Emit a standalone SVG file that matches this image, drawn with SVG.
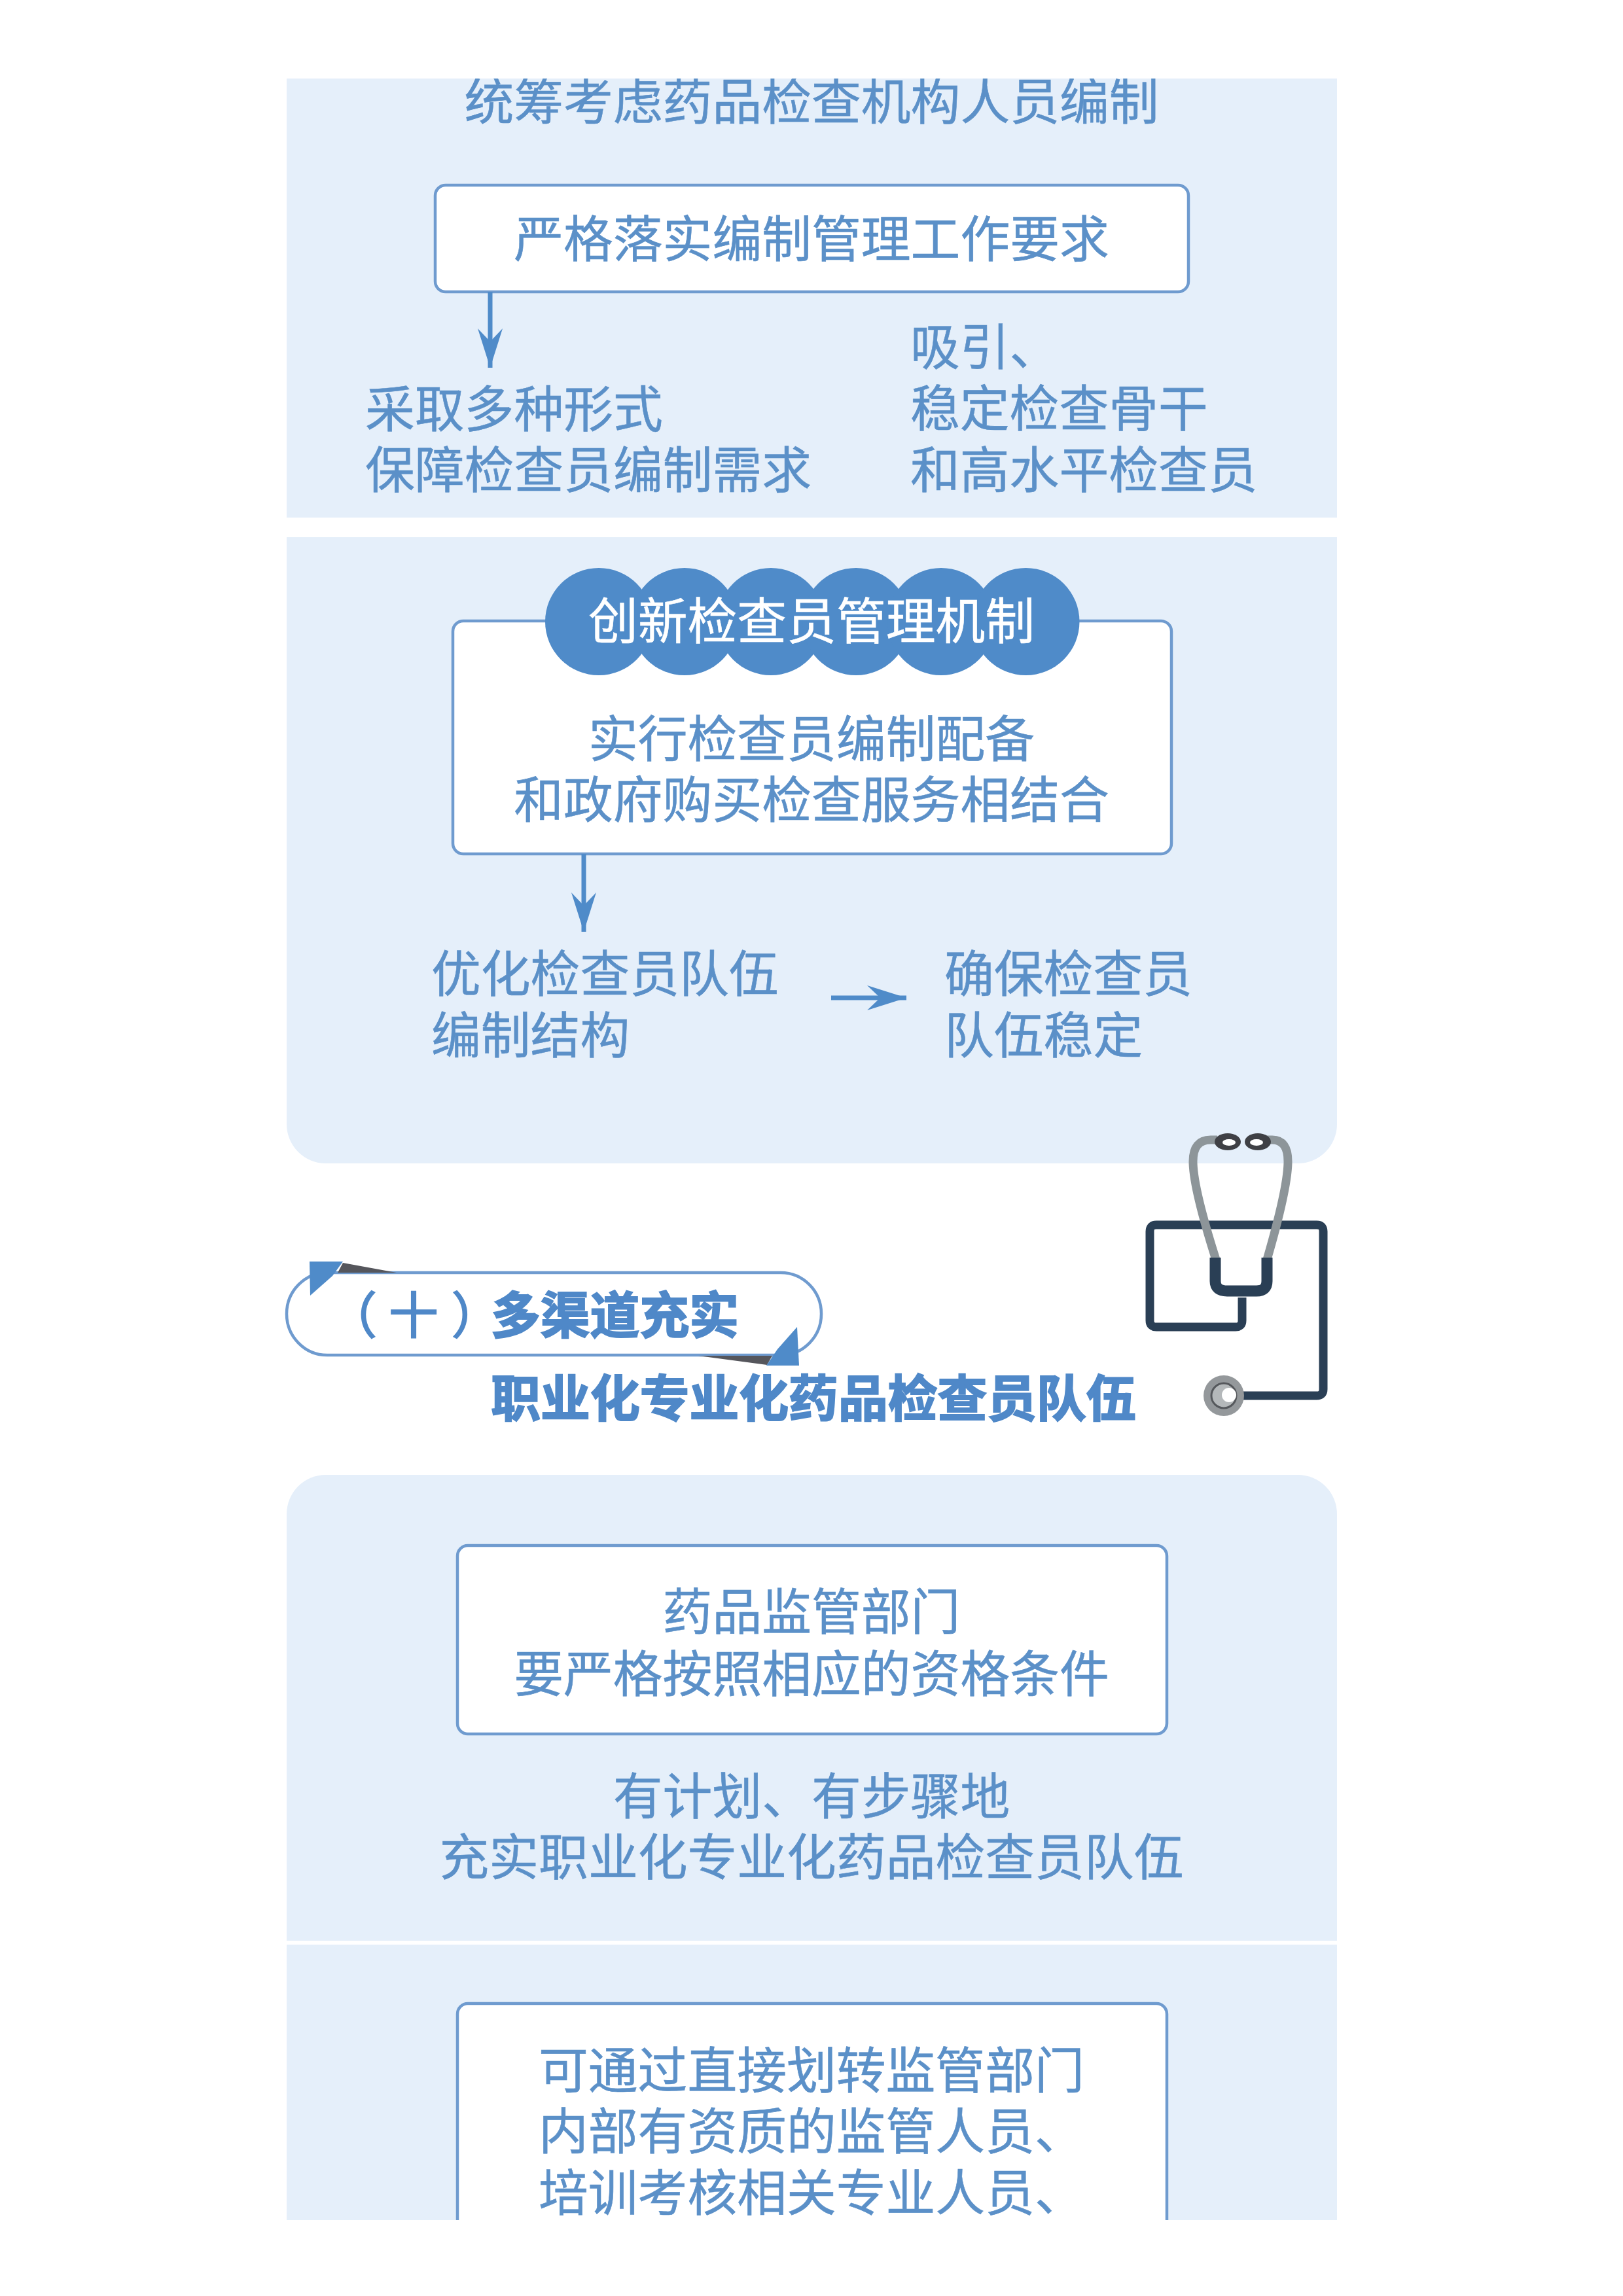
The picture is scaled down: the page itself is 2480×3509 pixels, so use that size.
<svg xmlns="http://www.w3.org/2000/svg" width="2480" height="3509" viewBox="0 0 2480 3509">
<style>
text{font-family:"Noto Sans CJK SC","Noto Sans",sans-serif;font-size:75.8px;fill:#5b90c8;stroke:#5b90c8;stroke-width:.6px}
.c{text-anchor:middle}
.w{fill:#fff;stroke:#fff}
.h{font-weight:700;fill:#4f88c8;stroke:#4f88c8;stroke-width:2.2px}
.t{font-weight:400;fill:#4f88c8;stroke:#4f88c8;stroke-width:2px;text-anchor:middle}
.panel{fill:#e5effa}
.box{fill:#fff;stroke:#6f9bcf;stroke-width:4.5}
.conn{fill:none;stroke:#4f8bc9;stroke-width:7}
.dark{fill:none;stroke:#2a3f55;stroke-width:13;stroke-linejoin:round}
.grey{fill:none;stroke:#8d9599;stroke-width:13}
</style>
<defs>
<marker id="head" markerUnits="userSpaceOnUse" markerWidth="64" markerHeight="44" refX="60" refY="22" orient="auto"><path d="M60 22L0 3L20 22L0 41Z" fill="#4f8bc9"/></marker>
<clipPath id="page"><rect x="438" y="120" width="1605" height="3273"/></clipPath>
</defs>
<rect width="2480" height="3509" fill="#fff"/>
<g id="panels">
<rect class="panel" x="438" y="120" width="1605" height="671"/>
<path class="panel" d="M438 821H2043V1718A60 60 0 0 1 1983 1778H498A60 60 0 0 1 438 1718Z"/>
<path class="panel" d="M498 2254H1983A60 60 0 0 1 2043 2314V2966H438V2314A60 60 0 0 1 498 2254Z"/>
<rect class="panel" x="438" y="2972" width="1605" height="421"/>
</g>
<g id="node-top" clip-path="url(#page)"><text class="c" x="1240" y="183">统筹考虑药品检查机构人员编制</text></g>
<g id="node-requirement">
<rect class="box" x="665" y="283" width="1151" height="163" rx="16"/>
<text class="c" x="1240" y="393">严格落实编制管理工作要求</text>
</g>
<g id="node-forms"><text x="558" y="653">采取多种形式</text><text x="558" y="746">保障检查员编制需求</text></g>
<g id="node-attract"><text x="1391" y="558">吸引、</text><text x="1391" y="652">稳定检查骨干</text><text x="1391" y="746">和高水平检查员</text></g>
<g id="node-mechanism">
<rect class="box" x="692" y="949" width="1098" height="356" rx="16"/>
<g fill="#4f8bc9"><circle cx="915" cy="950" r="82"/><circle cx="1046" cy="950" r="82"/><circle cx="1178" cy="950" r="82"/><circle cx="1308" cy="950" r="82"/><circle cx="1438" cy="950" r="82"/><circle cx="1567.5" cy="950" r="82"/></g>
<text class="c w" x="1240" y="977">创新检查员管理机制</text>
<text class="c" x="1240" y="1157">实行检查员编制配备</text>
<text class="c" x="1240" y="1250">和政府购买检查服务相结合</text>
</g>
<g id="node-optimize"><text x="659" y="1516">优化检查员队伍</text><text x="659" y="1610">编制结构</text></g>
<g id="node-stable"><text x="1443" y="1516">确保检查员</text><text x="1443" y="1610">队伍稳定</text></g>
<g id="connectors">
<path class="conn" d="M749 446V562" marker-end="url(#head)"/>
<path class="conn" d="M892 1305V1424" marker-end="url(#head)"/>
<path class="conn" d="M1270 1525H1385" stroke-width="9" marker-end="url(#head)"/>
</g>
<g id="node-heading">
<rect x="438" y="1945" width="817" height="126" rx="62" ry="63" fill="#fff" stroke="#6f9bcf" stroke-width="4.5"/>
<path d="M524 1930L606 1945H516Z" fill="#55565c"/>
<path d="M473 1928H524L508 1950L474 1980Z" fill="#4f8bc9"/>
<path d="M1067 2072H1180L1172 2086Z" fill="#55565c"/>
<path d="M1218 2028L1221 2087H1171L1188 2062Z" fill="#4f8bc9"/>
<text class="t" x="538" y="2038">（</text><text class="t" x="632" y="2038">十</text><text class="t" x="728" y="2038">）</text>
<text class="h" x="750" y="2038">多渠道充实</text>
<text class="h c" x="1243" y="2165">职业化专业化药品检查员队伍</text>
</g>
<g id="stethoscope">
<path class="dark" d="M1898 1983V2018Q1898 2028 1888 2028H1767Q1757 2028 1757 2018V1882Q1757 1872 1767 1872H2012Q2022 1872 2022 1882V2123Q2022 2133 2012 2133H1895"/>
<path class="grey" d="M1860 1742H1850Q1823 1742 1823 1775Q1823 1815 1858 1925"/>
<path class="grey" d="M1934 1742H1944Q1968 1742 1968 1775Q1968 1815 1936 1925"/>
<path d="M1857 1922V1958Q1857 1973 1875 1973H1920Q1936 1973 1936 1958V1922" fill="none" stroke="#2a3f55" stroke-width="17"/>
<ellipse cx="1876" cy="1745" rx="20" ry="13" fill="#3f4045"/><ellipse cx="1878" cy="1746" rx="10" ry="5" fill="#fff"/>
<ellipse cx="1922" cy="1745" rx="20" ry="13" fill="#3f4045"/><ellipse cx="1920" cy="1746" rx="10" ry="5" fill="#fff"/>
<circle cx="1870" cy="2133" r="31" fill="#94989b"/><circle cx="1870" cy="2133" r="19" fill="#b4b8ba" stroke="#55585c" stroke-width="3"/><circle cx="1878" cy="2132" r="11" fill="#fff"/>
</g>
<g id="node-qualify">
<rect class="box" x="699" y="2362" width="1084" height="288" rx="16"/>
<text class="c" x="1240" y="2491">药品监管部门</text>
<text class="c" x="1240" y="2586">要严格按照相应的资格条件</text>
</g>
<g id="node-plan"><text class="c" x="1240" y="2773">有计划、有步骤地</text><text class="c" x="1240" y="2866">充实职业化专业化药品检查员队伍</text></g>
<g id="node-transfer" clip-path="url(#page)">
<rect class="box" x="699" y="3062" width="1084" height="400" rx="16"/>
<text x="823" y="3192">可通过直接划转监管部门</text>
<text x="823" y="3285">内部有资质的监管人员、</text>
<text x="823" y="3379">培训考核相关专业人员、</text>
</g>
</svg>
